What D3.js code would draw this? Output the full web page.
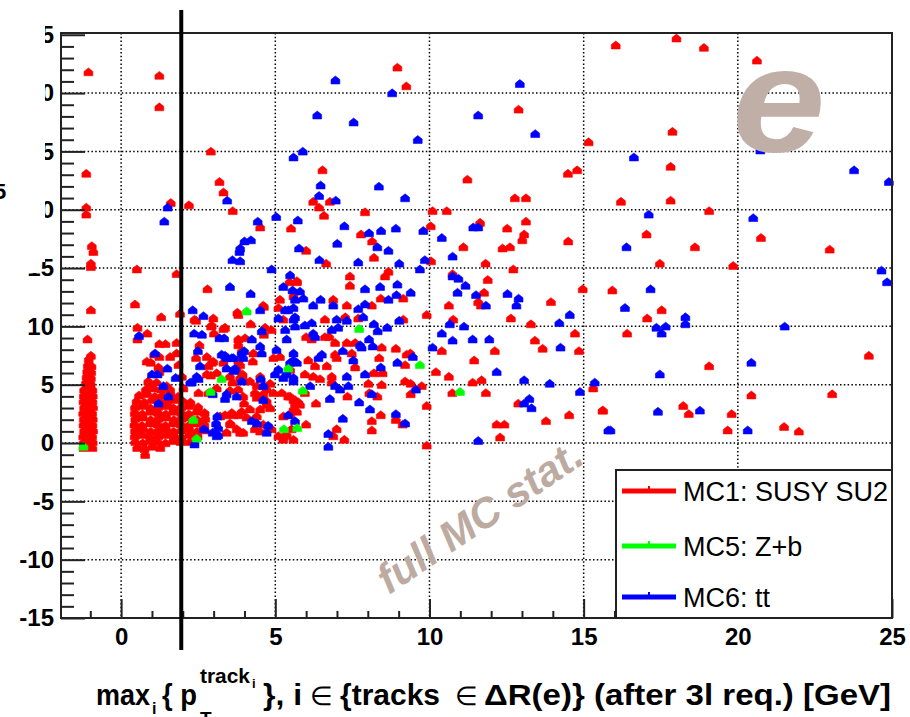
<!DOCTYPE html>
<html>
<head>
<meta charset="utf-8">
<script src="https://cdn.jsdelivr.net/npm/d3@7"></script>
<style>
body { margin: 0; background: #fff; }
</style>
</head>
<body>
<div id="viz"></div>
<script>
// size of the page and of the plot frame
const width = 910
const height = 717
const frame = {left: 61, top: 33, right: 892, bottom: 618}

// tick labels and grid positions
const xTicks = [0, 5, 10, 15, 20, 25]
const yTicks = [-15, -10, -5, 0, 5, 10, 15, 20, 25, 30, 35]
const xGrid = [0, 5, 10, 15, 20]
const yGrid = [-10, -5, 0, 5, 10, 15, 20, 25, 30]
const cutValue = 1.95

// legend
const legendLabels = ["MC1: SUSY SU2", "MC5: Z+b", "MC6: tt"]
const legendColors = ["#ff0000", "#00ff00", "#0000ff"]

// MC1 (red): narrow column just below zero
const mc1Column = [
  [-1.22,-0.4],[-1.07,-0.3],[-0.93,-0.4],[-1.21,0.1],[-1.06,0.2],[-0.92,0.1],
  [-1.23,0.6],[-1.08,0.7],[-0.94,0.6],[-1.20,1.1],[-1.05,1.2],[-0.91,1.1],
  [-1.22,1.6],[-1.07,1.7],[-0.93,1.6],[-1.21,2.1],[-1.06,2.2],[-0.92,2.1],
  [-1.23,2.6],[-1.08,2.7],[-0.94,2.6],[-1.20,3.1],[-1.05,3.2],[-0.91,3.1],
  [-1.22,3.6],[-1.07,3.7],[-0.93,3.6],[-1.21,4.1],[-1.06,4.2],[-0.92,4.1],
  [-1.20,4.6],[-1.05,4.7],[-0.93,4.6],[-1.14,5.2],[-0.99,5.1],[-1.12,5.7],
  [-0.98,5.6],[-1.10,6.2],[-0.97,6.1],[-1.08,6.7],[-0.96,6.6],[-1.05,7.2],
  [-0.98,7.5],[-1.09,8.9],[-0.98,11.4],[-0.98,15.1],[-0.98,15.4],[-0.90,16.4],
  [-0.95,16.9],[-1.13,19.6],[-1.13,20.2],[-1.13,23.1],[-1.06,31.8]
]

// MC1 (red): dense blob at low pT
const mc1Core = [
  [0.52,-0.4],[0.76,-0.5],[1.01,-0.3],[1.27,-0.4],[0.78,-1.0],
  [0.46,0.1],[0.70,0.0],[0.95,0.2],[1.19,0.1],[1.44,0.0],[1.69,0.2],[1.93,0.1],[2.22,0.1],
  [0.44,0.6],[0.69,0.7],[0.94,0.5],[1.20,0.6],[1.46,0.7],[1.71,0.6],[1.96,0.5],[2.21,0.7],[2.48,0.6],
  [0.45,1.1],[0.71,1.2],[0.96,1.0],[1.21,1.1],[1.45,1.2],[1.70,1.0],[1.95,1.1],[2.20,1.2],[2.46,1.0],[2.72,1.1],
  [0.43,1.6],[0.68,1.5],[0.94,1.7],[1.19,1.6],[1.44,1.5],[1.69,1.7],[1.94,1.6],[2.19,1.5],[2.45,1.7],[2.70,1.6],
  [0.46,2.1],[0.70,2.2],[0.96,2.0],[1.21,2.1],[1.46,2.2],[1.71,2.0],[1.96,2.1],[2.21,2.2],[2.47,2.0],[2.73,2.1],
  [0.44,2.6],[0.69,2.5],[0.95,2.7],[1.20,2.6],[1.45,2.5],[1.70,2.7],[1.95,2.6],[2.20,2.5],[2.46,2.7],[2.71,2.6],
  [0.45,3.1],[0.70,3.2],[0.95,3.0],[1.20,3.1],[1.45,3.2],[1.70,3.0],[1.95,3.1],[2.21,3.2],[2.50,3.1],
  [0.50,3.6],[0.75,3.5],[1.00,3.7],[1.25,3.6],[1.50,3.5],[1.75,3.7],[2.00,3.6],[2.25,3.5],
  [0.58,4.1],[0.84,4.2],[1.09,4.0],[1.34,4.1],[1.60,4.2],[1.85,4.0],
  [0.80,4.6],[1.05,4.7],[1.30,4.6],[0.92,5.1],[1.15,5.2]
]

// MC1 (red): everything else
const mc1Spread = [
  [1.24,31.5],[1.24,28.8],[2.91,25.0],[3.19,22.4],[3.32,21.5],[3.62,19.9],[1.61,20.6],[2.20,20.4],
  [4.51,18.5],[5.51,18.4],[8.96,32.2],[9.25,30.6],[6.53,23.4],[6.23,20.7],[6.77,20.7],[6.42,20.2],
  [7.91,19.8],[6.58,19.5],[7.78,17.9],[8.14,17.3],[10.10,19.9],[10.56,19.9],[10.04,18.6],[12.89,28.6],
  [15.16,25.8],[11.23,22.6],[14.49,23.1],[14.79,23.4],[12.77,21.0],[13.13,21.0],[13.13,19.0],[11.64,18.9],
  [12.52,18.4],[13.07,17.9],[13.01,17.4],[11.10,16.8],[12.37,16.7],[12.61,16.8],[14.50,17.3],
  [16.04,34.1],[18.01,34.7],[18.90,33.9],[20.62,32.8],[20.53,30.5],[17.88,26.7],[17.82,23.7],[16.21,20.7],
  [17.82,20.8],[19.07,19.9],[17.04,17.9],[20.75,17.6],[18.61,16.8],[22.98,16.6],[17.47,15.4],[19.85,15.2],
  [15.93,13.1],[17.53,11.4],[17.06,10.7],[16.41,9.4],[24.25,7.5],[19.07,6.6],[20.44,4.1],[23.06,4.2],
  [15.63,2.8],[18.23,3.2],[18.41,2.5],[19.80,2.5],[19.67,1.1],[21.50,1.4],[21.98,1.0],
  [6.00,16.5],[8.20,15.9],[6.65,15.4],[10.05,15.6],[11.82,15.4],[12.72,14.9],[8.67,14.7],[8.56,14.3],
  [7.42,14.3],[7.42,13.5],[5.70,13.8],[9.15,12.4],[8.42,12.4],[6.88,12.3],[7.32,11.8],[8.13,11.8],
  [6.61,10.6],[7.27,10.8],[7.69,10.7],[9.15,10.6],[9.91,11.0],[6.00,9.1],[6.18,8.9],[6.61,9.1],
  [6.75,9.1],[6.94,8.6],[7.32,8.6],[7.59,8.6],[8.45,8.2],[8.91,8.1],[9.26,7.6],[9.38,7.7],
  [7.48,7.7],[6.94,7.6],[6.99,7.3],[6.07,7.1],[8.37,7.3],[9.21,6.7],[7.59,6.5],[6.67,6.6],
  [6.29,6.6],[8.20,6.0],[8.48,6.0],[5.96,5.9],[6.23,5.7],[6.45,5.5],[6.83,5.7],[5.48,6.3],
  [6.83,5.2],[8.02,5.1],[8.05,4.3],[8.45,5.0],[9.21,5.3],[9.39,5.1],[9.75,4.9],[9.39,4.2],
  [5.96,4.3],[5.59,3.7],[5.75,3.5],[6.32,3.4],[7.34,4.0],[8.31,4.0],[9.91,3.2],[8.42,2.4],
  [8.13,1.9],[8.91,2.0],[9.13,1.6],[6.00,1.6],[5.53,1.2],[6.99,1.2],[8.13,1.1],[6.88,0.6],
  [7.24,0.3],[9.91,-0.2],
  [10.75,14.5],[11.89,14.0],[11.77,12.9],[11.58,12.1],[11.67,11.8],[10.63,11.8],[13.94,12.1],[14.97,13.2],
  [10.77,10.6],[12.64,10.7],[13.29,10.2],[14.72,9.4],[13.42,8.8],[10.40,7.9],[12.12,7.9],[13.67,8.1],
  [14.85,7.9],[11.45,7.1],[10.21,6.1],[10.63,5.7],[11.40,5.2],[11.69,5.4],[10.74,4.3],[11.83,4.3],
  [15.31,4.7],[12.88,3.4],[14.53,2.4],[13.78,1.9],[15.61,2.8],[12.18,1.6],[12.43,1.6],[12.29,0.5],
  [0.51,14.9],[0.45,11.9],[1.30,10.8],[1.80,14.5],[0.53,9.9],[2.80,13.2],[1.91,11.1],[4.61,11.8],
  [2.99,10.7],[2.38,10.6],[3.80,11.0],[2.92,10.0],[3.37,9.9],[5.10,11.6],[5.26,10.6],[5.46,13.8],
  [5.70,13.9],[5.59,12.6],[5.15,12.3],[1.07,7.6],[0.83,7.0],[1.21,6.5],[0.53,8.9],[0.85,9.4],
  [1.24,8.5],[1.44,8.5],[1.80,8.6],[0.96,6.9],[1.24,7.4],[1.59,7.4],[1.80,7.7],[1.86,6.7],
  [1.24,6.1],[0.88,5.3],[2.43,10.5],[2.94,10.1],[3.32,9.8],[3.01,9.4],[2.54,8.4],[3.80,8.9],
  [3.91,7.9],[4.27,7.0],[4.63,9.3],[4.20,10.2],[4.63,11.7],[3.77,11.2],[2.94,6.9],[2.83,6.6],
  [3.10,6.0],[2.78,5.9],[3.94,5.9],[4.18,5.3],[3.10,4.7],[3.53,4.5],[3.80,4.6],[3.99,3.4],
  [4.40,3.9],[4.51,2.9],[4.72,3.3],[4.83,3.0],[5.42,4.0],[5.64,3.7],[3.37,2.4],[3.64,2.4],
  [3.91,2.7],[3.56,1.6],[3.86,0.9],[4.31,2.0],[4.61,1.6],[4.51,1.0],[4.88,1.2],[5.59,2.9],
  [5.28,0.6],[5.10,0.6],[2.34,2.0],[2.67,1.4],[2.43,7.3],[2.78,7.4],[2.91,5.8],[1.97,5.7],
  [2.02,4.7],[1.48,4.9],[1.59,4.6],[2.51,4.3],[2.83,4.3],[3.53,5.7],[3.61,5.2],[3.86,5.6],
  [4.02,5.3],[3.96,4.0],[4.34,4.3],[4.61,4.2],[4.72,3.6],[4.18,2.9],[4.40,2.3],[4.07,2.2],
  [3.59,2.6],[3.80,2.4],[3.21,2.3],[3.53,1.7],[3.42,0.9],[3.75,1.2],[3.96,0.9],[4.34,1.2],
  [5.26,0.3],[5.37,0.7],[5.59,0.3],[5.26,2.3],[5.48,2.4],[5.70,2.7],[5.21,4.3],[5.48,4.0],
  [5.64,3.4],[5.80,3.3],[4.83,5.1],[4.94,4.3],[4.72,4.6],[4.51,5.7],[4.61,4.9],[4.40,4.9],
  [4.29,7.7],[3.80,8.4],[4.02,9.0],[3.80,7.1],[3.86,6.7],[3.75,6.3],[3.32,6.9],[2.99,7.0],
  [4.94,7.3],[5.15,7.4],[4.88,9.7],[4.67,9.9]
]

// MC5 (green)
const mc5Points = [
  [4.07,11.3],[7.72,9.8],[9.69,6.7],[10.99,4.4],[5.71,1.3],[5.28,1.2],[2.34,2.0],
  [3.26,5.5],[5.89,4.5],[2.45,0.4],[5.42,6.4],[-1.22,-0.3],[2.90,4.4]
]

// MC6 (blue)
const mc6Points = [
  [3.44,20.8],[1.51,20.2],[1.40,19.0],[5.59,24.5],[5.03,19.4],[5.73,19.1],[4.43,19.0],[4.00,17.3],
  [4.21,17.4],[3.86,16.7],[6.95,31.1],[8.79,30.0],[6.36,28.1],[7.54,27.5],[9.62,26.0],[5.89,25.0],
  [6.47,22.1],[8.36,22.0],[6.42,21.2],[9.21,21.0],[6.96,20.8],[7.24,18.6],[8.04,18.0],[8.43,18.2],
  [8.91,18.4],[9.80,18.2],[7.01,17.1],[8.31,16.8],[12.93,30.8],[11.58,28.1],[13.43,26.5],[11.42,18.5],
  [11.58,18.5],[10.40,17.6],[16.63,24.5],[20.73,25.1],[23.77,23.4],[24.90,22.4],[17.11,19.6],[20.50,19.3],
  [16.39,16.8],[24.66,14.8],[24.84,13.8],[17.17,13.2],[16.34,11.6],[18.30,10.8],[18.30,10.2],[17.36,9.9],
  [17.66,10.0],[17.53,9.4],[21.52,10.0],[20.44,6.9],[17.47,5.9],[17.41,2.7],[18.77,2.8],[15.87,1.1],
  [20.32,1.1],
  [5.77,16.7],[8.67,16.5],[6.43,15.7],[7.69,15.5],[9.02,15.4],[9.85,15.7],[9.69,14.9],[10.75,16.0],
  [8.96,13.6],[8.40,13.4],[7.91,13.2],[5.80,13.0],[5.91,12.4],[9.39,12.9],[8.93,12.7],[8.67,12.3],
  [6.47,12.3],[6.88,11.8],[6.23,11.8],[7.91,11.9],[7.69,11.5],[5.64,10.8],[6.99,10.6],[7.32,10.5],
  [7.85,10.8],[8.20,10.2],[9.02,10.5],[5.64,10.0],[5.96,10.1],[6.18,10.3],[8.32,9.6],[8.63,9.9],
  [7.04,9.9],[6.83,9.7],[6.23,9.4],[6.29,9.1],[7.75,8.4],[8.04,8.9],[8.16,8.3],[7.80,8.2],
  [9.46,7.4],[7.19,7.9],[6.51,7.6],[6.40,7.3],[5.59,7.1],[7.53,7.1],[8.96,6.9],[8.42,6.5],
  [7.91,5.9],[7.32,5.7],[5.59,5.6],[6.13,4.9],[6.94,4.9],[7.10,4.6],[7.37,4.9],[8.13,4.2],
  [9.56,4.6],[6.77,3.8],[7.72,3.5],[8.07,2.9],[8.91,2.5],[7.19,2.1],[9.21,1.7],[6.72,0.8],
  [6.72,-0.3],
  [10.75,14.3],[10.94,14.1],[11.17,13.5],[10.91,12.9],[11.51,12.7],[11.83,11.8],[12.53,12.8],[12.89,12.4],
  [12.82,11.8],[10.66,10.2],[11.12,10.0],[14.21,10.3],[14.55,11.0],[10.40,9.4],[10.75,8.8],[11.40,8.9],
  [11.94,8.9],[10.10,8.2],[14.25,8.2],[12.18,6.1],[13.07,5.4],[13.90,5.1],[14.88,4.4],[15.36,5.2],
  [13.07,3.4],[13.24,3.8],[13.31,3.0],[11.58,0.2],[15.80,1.1],
  [0.58,9.2],[1.10,7.7],[1.50,6.4],[1.18,5.9],[1.77,5.6],[1.53,4.0],[1.21,3.4],[2.38,-0.1],
  [2.32,11.4],[2.67,10.9],[2.37,9.4],[2.62,9.3],[3.19,9.0],[3.34,9.0],[2.49,7.9],[4.24,8.9],
  [3.99,7.9],[3.37,7.5],[3.59,7.3],[4.56,9.6],[4.51,8.3],[4.56,7.7],[4.51,11.4],[5.10,10.7],
  [5.42,11.4],[5.59,10.6],[3.42,6.4],[3.66,6.2],[2.24,5.2],[2.51,5.5],[3.91,5.3],[4.53,5.5],
  [4.61,4.9],[3.75,4.0],[3.37,3.8],[4.61,3.7],[3.12,2.3],[3.08,1.7],[2.97,0.9],[3.15,0.7],
  [4.24,1.9],[4.77,1.5],[5.42,2.4],[3.53,13.4],[3.61,15.7],[3.86,15.6],[3.84,16.4],[4.20,12.8],
  [4.88,14.9],[5.32,11.4],[5.59,11.6],[5.26,13.4],[5.56,13.1],[5.48,14.4],[5.64,12.3],[2.56,6.6],
  [2.45,5.7],[2.29,5.2],[1.37,4.9],[1.00,5.9],[2.97,4.2],[3.42,4.2],[4.40,1.7],[3.15,1.3],
  [2.69,1.2],[3.10,0.6],[4.72,0.9],[5.64,1.9],[5.48,6.9],[5.26,5.6],[5.59,5.3],[5.10,6.3],
  [5.37,5.9],[4.99,5.9],[3.91,7.7],[3.64,7.3],[3.96,7.3],[3.69,6.4],[3.26,7.6],[3.42,7.3],
  [5.04,8.0],[5.37,8.9],[5.32,9.7],[5.59,7.7],[5.70,6.9]
]

const font = "'Liberation Sans', Arial, Helvetica, sans-serif"
const marker = "M0,-4.2L4.4,-0.7L4.4,3.7L-4.4,3.7L-4.4,-0.7Z"

var svg = d3.select("#viz")
        .append("svg")
        .attr("width", width)
        .attr("height", height)
        .style("display", "block")
        .style("background", "#fff");

// scales
const x = d3.scaleLinear().domain([-1.95, 25]).range([frame.left, frame.right]);
const y = d3.scaleLinear().domain([-15, 35.15]).range([frame.bottom, frame.top]);

// dotted grid
const grid = svg.append("g")
        .attr("stroke", "#000")
        .attr("stroke-width", 1.5)
        .attr("stroke-dasharray", "1.5,2.3");
grid.selectAll(".vgrid").data(xGrid).enter().append("line")
    .attr("x1", d => x(d)).attr("x2", d => x(d))
    .attr("y1", frame.top).attr("y2", frame.bottom);
grid.selectAll(".hgrid").data(yGrid).enter().append("line")
    .attr("x1", frame.left).attr("x2", frame.right)
    .attr("y1", d => y(d)).attr("y2", d => y(d));

// markers: red first, then blue, then green on top
function drawPoints(data, color) {
    svg.append("g")
        .selectAll("path")
        .data(data)
        .enter()
        .append("path")
        .attr("d", marker)
        .attr("transform", d => "translate(" + x(d[0]) + "," + y(d[1]) + ")")
        .attr("fill", color)
        .attr("stroke", color)
        .attr("stroke-width", 0.6)
        .attr("stroke-linejoin", "round");
}
drawPoints(mc1Column.concat(mc1Core, mc1Spread), legendColors[0]);
drawPoints(mc6Points, legendColors[2]);
drawPoints(mc5Points, legendColors[1]);

// y axis: major and minor ticks pointing inside
const yMinor = d3.range(-15, 36).filter(v => v % 5 != 0);
svg.append("g")
    .attr("transform", "translate(" + frame.left + ",0)")
    .call(d3.axisLeft(y).tickValues(yMinor).tickSize(-13).tickFormat(""))
    .call(g => g.select(".domain").remove());
const yAxis = svg.append("g")
    .attr("transform", "translate(" + frame.left + ",0)")
    .call(d3.axisLeft(y).tickValues(yTicks).tickSize(-24).tickPadding(7).tickFormat(d => String(d)))
    .call(g => g.select(".domain").remove());
yAxis.selectAll("text")
    .style("font", "bold 24px " + font)
    .attr("fill", "#000");

// x axis
const xMinor = d3.range(-1, 26).filter(v => v % 5 != 0);
svg.append("g")
    .attr("transform", "translate(0," + frame.bottom + ")")
    .call(d3.axisBottom(x).tickValues(xMinor).tickSize(-7).tickFormat(""))
    .call(g => g.select(".domain").remove());
const xAxis = svg.append("g")
    .attr("transform", "translate(0," + frame.bottom + ")")
    .call(d3.axisBottom(x).tickValues(xTicks).tickSize(-19).tickPadding(10).tickFormat(d => String(d)))
    .call(g => g.select(".domain").remove());
xAxis.selectAll("text")
    .style("font", "bold 24px " + font)
    .attr("fill", "#000");

svg.selectAll(".tick line").attr("stroke", "#222").attr("stroke-width", 2);

// frame
svg.append("rect")
    .attr("x", frame.left).attr("y", frame.top)
    .attr("width", frame.right - frame.left)
    .attr("height", frame.bottom - frame.top)
    .attr("fill", "none")
    .attr("stroke", "#222")
    .attr("stroke-width", 2);

// the left side of the upper labels is hidden in the original picture
svg.append("rect").attr("x", 0).attr("y", 0).attr("width", 45).attr("height", 262).attr("fill", "#fff");
svg.append("rect").attr("x", 0).attr("y", 262).attr("width", 39).attr("height", 11).attr("fill", "#fff");
svg.append("text")
    .attr("x", -6).attr("y", 199)
    .style("font", "bold 22px " + font)
    .text("5");

// cut line
svg.append("line")
    .attr("x1", x(cutValue)).attr("x2", x(cutValue))
    .attr("y1", 10).attr("y2", 650)
    .attr("stroke", "#000")
    .attr("stroke-width", 4);

// legend
const legend = svg.append("g");
legend.append("rect")
    .attr("x", 616).attr("y", 470)
    .attr("width", frame.right - 616).attr("height", frame.bottom - 470)
    .attr("fill", "#fff")
    .attr("stroke", "#222")
    .attr("stroke-width", 2);
const rows = legend.selectAll(".row")
    .data(legendLabels)
    .enter()
    .append("g")
    .attr("transform", (d, i) => "translate(0," + [491, 546, 597][i] + ")");
rows.append("line")
    .attr("x1", 622).attr("x2", 676)
    .attr("stroke", (d, i) => legendColors[i])
    .attr("stroke-width", 5);
rows.append("line")
    .attr("x1", 649).attr("x2", 649).attr("y1", -5).attr("y2", 0)
    .attr("stroke", (d, i) => legendColors[i])
    .attr("stroke-width", 2);
rows.append("text")
    .attr("x", 683)
    .attr("dy", "0.36em")
    .style("font", "27px " + font)
    .attr("fill", "#000")
    .text(d => d);

// x label, pieces placed like the ROOT latex output
const title = svg.append("g").style("font-family", font).attr("fill", "#000");
function piece(tx, ty, size, weight, s, len) {
    const t = title.append("text").attr("x", tx).attr("y", ty)
        .style("font-size", size + "px").style("font-weight", weight).text(s);
    if (len) t.attr("textLength", len).attr("lengthAdjust", "spacingAndGlyphs");
}
piece(96, 705, 29, "bold", "max", 54);
piece(152, 714, 16, "bold", "i");
piece(162, 705, 29, "bold", "{ p", 35);
piece(200, 725, 19, "bold", "T");
piece(200, 683, 20, "bold", "track", 50);
piece(252, 688, 13, "bold", "i");
piece(263, 705, 29, "bold", "}, i", 39);
piece(310, 705, 26, "normal", "\u2208");
piece(340, 705, 29, "bold", "{tracks", 100);
piece(455, 705, 26, "normal", "\u2208");
piece(484, 705, 29, "bold", "\u0394R(e)} (after 3l req.) [GeV]", 407);

// watermark texts
svg.append("text")
    .attr("transform", "translate(732,152) scale(1.12,1)")
    .style("font", "italic bold 150px " + font)
    .attr("fill", "#bfafa6")
    .text("e");
svg.append("text")
    .attr("transform", "translate(389,595) rotate(-34)")
    .style("font", "italic bold 42px " + font)
    .attr("fill", "#bdaba2")
    .text("full MC stat.");
</script>
</body>
</html>
